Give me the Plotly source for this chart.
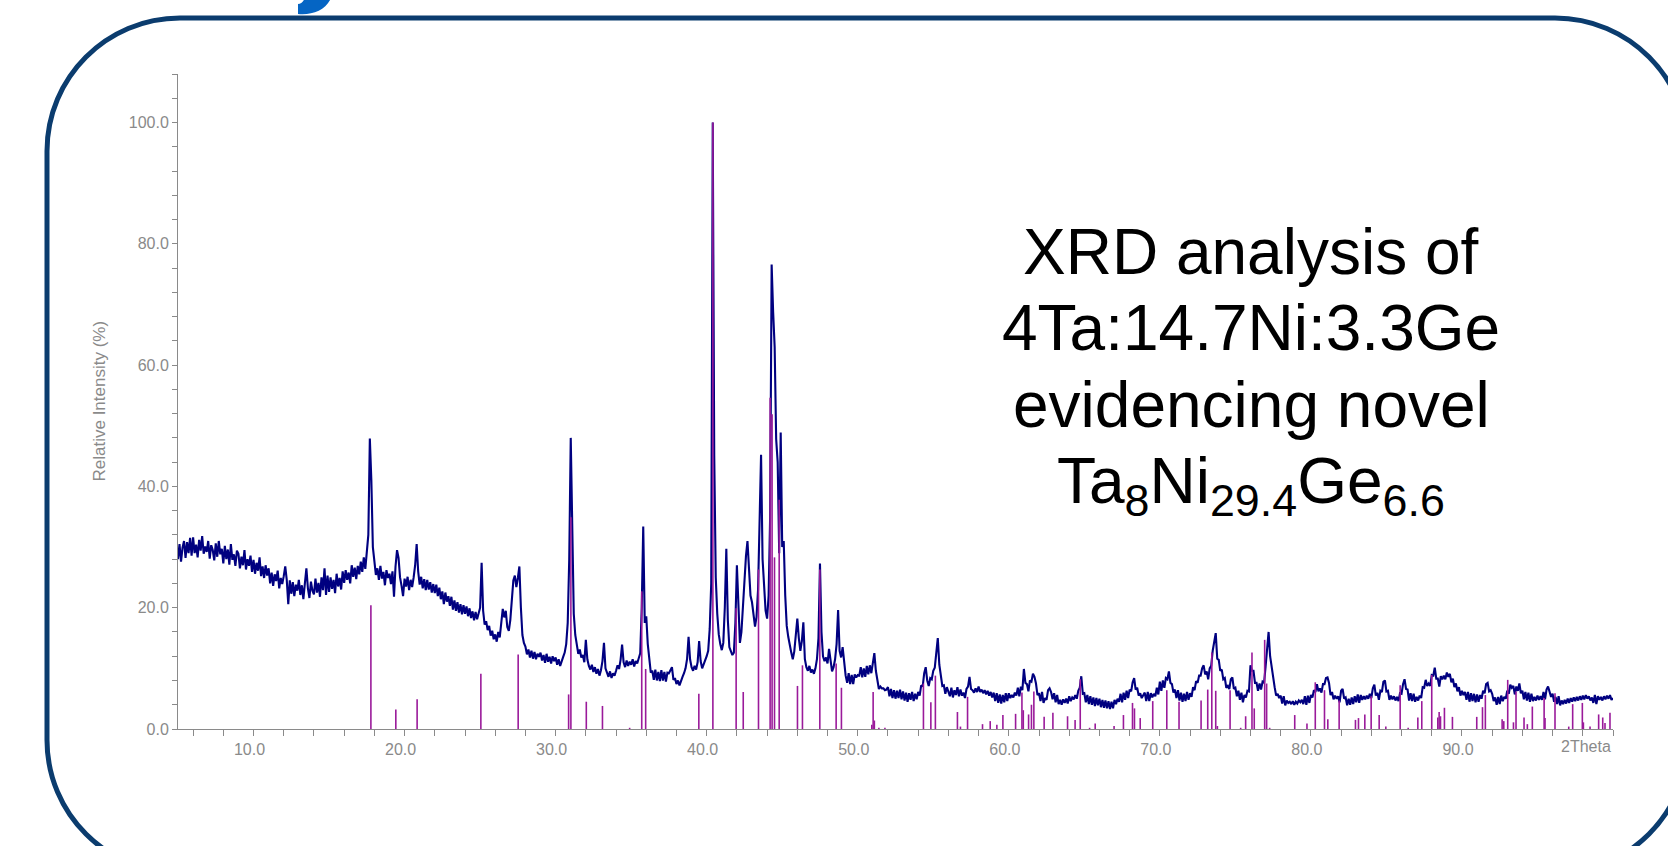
import numpy as np
import plotly.graph_objects as go

# ------------------------------------------------------------------
# DATA
# ------------------------------------------------------------------
# Measured scan: 2Theta from 5.0 to 100.0 in 0.1 deg steps, one row per degree
scan_start = 5.0
scan_step = 0.1
intensity_rows = [
    [28.0, 30.5, 27.6, 29.9, 31.0, 28.2, 30.8, 29.0, 31.5, 28.6],   # 5
    [31.6, 29.0, 30.4, 28.3, 31.2, 29.4, 31.8, 28.9, 30.1, 29.2],   # 6
    [31.0, 28.1, 30.3, 29.5, 27.8, 30.6, 28.4, 31.0, 28.8, 29.7],   # 7
    [27.3, 30.2, 28.0, 29.6, 27.1, 30.5, 27.9, 28.8, 26.9, 29.4],   # 8
    [28.9, 26.5, 28.4, 27.0, 29.5, 26.3, 28.0, 26.9, 28.6, 25.9],   # 9
    [27.9, 25.6, 27.4, 26.1, 28.3, 25.2, 26.8, 24.9, 27.0, 25.3],   # 10
    [26.5, 24.0, 25.8, 23.6, 25.5, 24.4, 26.1, 23.2, 24.9, 23.9],   # 11
    [25.2, 26.8, 24.6, 20.6, 24.5, 22.3, 24.2, 21.9, 23.8, 22.8],   # 12
    [24.6, 22.1, 23.7, 21.4, 24.0, 26.5, 23.2, 21.6, 24.3, 22.8],   # 13
    [22.2, 24.8, 22.5, 24.1, 21.8, 25.0, 22.9, 26.5, 22.1, 25.3],   # 14
    [22.6, 25.0, 23.1, 24.6, 22.4, 25.6, 23.5, 24.9, 23.0, 26.0],   # 15
    [24.1, 26.2, 24.6, 25.8, 24.0, 27.0, 25.1, 26.6, 24.7, 26.9],   # 16
    [25.5, 27.6, 25.9, 28.3, 26.4, 28.9, 32.0, 47.9, 41.0, 30.0],   # 17
    [27.2, 25.4, 26.5, 24.6, 26.9, 24.8, 25.9, 23.7, 26.2, 24.9],   # 18
    [25.6, 23.9, 26.0, 21.8, 26.8, 29.5, 28.2, 25.0, 23.6, 21.9],   # 19
    [24.8, 23.5, 25.1, 22.9, 24.6, 23.4, 25.0, 27.0, 30.5, 26.0],   # 20
    [23.8, 25.1, 23.2, 24.7, 22.9, 24.6, 23.0, 24.2, 22.5, 23.9],   # 21
    [22.4, 23.8, 21.9, 23.3, 21.4, 22.7, 20.6, 22.5, 21.0, 21.9],   # 22
    [20.3, 21.8, 19.7, 21.2, 19.5, 20.9, 19.2, 20.6, 18.9, 20.4],   # 23
    [19.0, 20.2, 18.6, 19.9, 18.3, 19.4, 17.9, 19.3, 18.1, 18.9],   # 24
    [20.0, 27.4, 19.5, 17.2, 17.8, 16.3, 17.0, 15.4, 16.2, 14.8],   # 25
    [15.6, 14.4, 16.0, 15.1, 17.2, 19.8, 18.4, 19.5, 16.8, 16.2],   # 26
    [18.0, 21.0, 24.5, 25.3, 23.4, 24.9, 26.8, 20.0, 15.5, 14.2],   # 27
    [13.6, 12.3, 13.1, 11.8, 12.9, 11.6, 12.7, 11.5, 12.4, 11.9],   # 28
    [12.6, 11.3, 12.2, 10.9, 12.4, 11.1, 11.9, 10.8, 12.0, 11.2],   # 29
    [11.8, 10.6, 11.5, 10.4, 11.3, 11.9, 12.6, 14.0, 17.5, 28.0],   # 30
    [48.0, 33.0, 19.0, 15.5, 13.6, 12.4, 13.1, 11.8, 12.2, 11.0],   # 31
    [14.7, 11.5, 10.4, 9.8, 10.6, 9.4, 10.2, 9.1, 9.9, 8.8],        # 32
    [9.7, 11.2, 14.2, 10.0, 9.3, 8.6, 9.5, 8.4, 9.2, 8.8],          # 33
    [9.6, 10.5, 9.9, 11.4, 13.9, 11.0, 10.2, 11.3, 10.4, 11.1],     # 34
    [10.6, 11.5, 10.3, 11.2, 10.8, 11.9, 12.5, 20.0, 33.4, 17.5],   # 35
    [18.6, 14.0, 11.0, 9.3, 9.6, 8.1, 9.8, 8.0, 9.4, 7.9],          # 36
    [9.7, 8.0, 9.4, 7.8, 9.3, 9.2, 9.7, 10.2, 8.1, 8.4],            # 37
    [7.4, 8.0, 7.2, 8.1, 8.6, 9.2, 10.0, 11.5, 15.2, 11.5],         # 38
    [10.2, 9.6, 10.4, 9.8, 11.0, 14.5, 11.2, 10.0, 10.6, 11.4],     # 39
    [12.0, 12.9, 16.5, 24.0, 100.0, 45.0, 25.0, 19.0, 15.6, 14.0],  # 40
    [13.0, 14.2, 20.0, 29.7, 18.0, 13.5, 12.9, 12.2, 12.6, 17.5],   # 41
    [27.0, 18.5, 14.2, 16.0, 20.3, 25.0, 28.5, 31.0, 26.5, 22.0],   # 42
    [20.9, 18.5, 16.9, 18.5, 22.9, 34.0, 45.2, 28.0, 23.0, 19.5],   # 43
    [18.2, 22.0, 35.0, 76.6, 68.7, 63.0, 47.8, 44.0, 29.0, 48.9],   # 44
    [30.0, 31.0, 22.0, 17.0, 15.2, 13.5, 12.6, 11.5, 12.8, 15.5],   # 45
    [18.2, 15.0, 12.9, 14.5, 17.6, 11.5, 10.2, 9.6, 10.4, 9.3],     # 46
    [9.8, 9.1, 10.0, 11.5, 15.0, 27.3, 16.0, 12.0, 11.2, 11.8],     # 47
    [10.8, 13.2, 10.9, 9.5, 10.2, 11.5, 14.0, 19.6, 12.9, 11.8],    # 48
    [13.5, 10.5, 8.8, 7.6, 9.2, 7.4, 8.9, 7.4, 9.0, 8.5],           # 49
    [8.9, 8.8, 10.2, 8.5, 10.0, 8.6, 10.4, 9.0, 10.5, 9.2],         # 50
    [10.9, 12.5, 9.6, 7.9, 6.6, 7.0, 6.7, 6.7, 6.4, 6.5],           # 51
    [6.9, 5.4, 6.6, 5.1, 6.4, 5.0, 6.3, 5.1, 6.5, 4.9],             # 52
    [6.2, 4.7, 6.0, 4.5, 5.9, 4.8, 6.1, 4.6, 5.8, 4.9],             # 53
    [6.1, 5.5, 7.2, 7.0, 9.2, 10.2, 8.0, 7.1, 8.4, 8.2],            # 54
    [9.6, 10.1, 12.4, 15.0, 10.6, 8.9, 7.1, 7.2, 5.8, 6.9],         # 55
    [6.3, 5.4, 6.8, 5.2, 6.4, 5.6, 6.9, 5.4, 6.5, 5.5],             # 56
    [6.0, 5.1, 6.6, 7.0, 8.6, 6.6, 6.4, 6.0, 6.7, 6.1],             # 57
    [7.0, 6.1, 6.5, 5.9, 6.4, 5.7, 6.3, 5.5, 6.1, 5.2],             # 58
    [6.0, 4.6, 5.9, 4.3, 5.7, 4.2, 5.6, 4.4, 5.9, 4.6],             # 59
    [5.9, 5.1, 5.6, 5.2, 6.0, 5.5, 6.8, 5.4, 7.0, 6.4],             # 60
    [9.9, 7.6, 7.4, 6.2, 8.0, 7.8, 9.1, 8.6, 7.5, 5.6],             # 61
    [5.9, 4.6, 6.1, 4.3, 5.1, 4.8, 6.4, 6.7, 6.1, 4.9],             # 62
    [5.9, 4.4, 5.6, 4.1, 4.8, 4.0, 4.9, 4.3, 5.0, 4.2],             # 63
    [5.4, 4.6, 5.2, 4.9, 5.6, 5.0, 6.3, 6.8, 8.7, 5.8],             # 64
    [5.9, 4.4, 5.6, 4.1, 5.4, 4.0, 5.2, 3.8, 5.1, 3.9],             # 65
    [5.0, 3.6, 4.8, 3.5, 4.7, 3.4, 4.6, 3.3, 4.5, 3.4],             # 66
    [4.8, 4.1, 5.0, 4.5, 5.8, 4.4, 6.0, 4.8, 6.3, 5.1],             # 67
    [6.5, 6.2, 7.7, 8.4, 6.5, 6.8, 5.5, 5.9, 5.1, 5.7],             # 68
    [6.0, 4.6, 6.1, 4.6, 5.9, 5.2, 5.8, 5.4, 6.8, 5.7],             # 69
    [7.8, 6.3, 8.0, 6.8, 8.4, 8.2, 9.5, 7.6, 7.4, 6.0],             # 70
    [6.5, 5.1, 6.4, 4.7, 6.0, 4.5, 5.8, 4.6, 6.1, 4.8],             # 71
    [5.9, 5.3, 6.9, 6.4, 7.9, 7.6, 8.8, 8.8, 10.0, 10.5],           # 72
    [9.0, 9.5, 8.2, 10.0, 10.4, 12.9, 14.1, 15.8, 11.6, 11.4],      # 73
    [9.6, 9.8, 8.2, 8.4, 6.8, 7.1, 6.6, 8.2, 8.5, 6.6],             # 74
    [6.8, 5.4, 6.3, 4.8, 6.0, 4.4, 5.6, 5.2, 6.3, 6.2],             # 75
    [10.5, 9.6, 9.6, 7.6, 7.6, 6.3, 7.5, 6.5, 7.8, 7.6],            # 76
    [10.3, 13.5, 16.0, 12.0, 10.1, 8.4, 6.9, 5.5, 5.8, 5.1],        # 77
    [5.5, 4.2, 5.4, 3.9, 4.7, 4.3, 4.5, 4.1, 4.6, 4.0],             # 78
    [4.5, 4.2, 4.7, 4.4, 4.8, 4.1, 5.4, 4.0, 5.5, 4.3],             # 79
    [5.6, 5.2, 6.4, 6.1, 7.4, 6.2, 6.7, 6.0, 7.4, 7.4],             # 80
    [8.4, 8.5, 7.6, 5.6, 6.1, 4.9, 5.5, 5.0, 5.4, 4.4],             # 81
    [6.3, 6.6, 5.0, 5.2, 3.9, 5.0, 4.0, 5.2, 4.1, 5.4],             # 82
    [4.4, 5.7, 4.3, 5.6, 4.8, 5.4, 4.9, 5.5, 5.0, 5.8],             # 83
    [5.1, 6.7, 7.3, 5.5, 6.0, 4.8, 6.3, 6.1, 7.8, 8.0],             # 84
    [6.2, 6.3, 4.8, 5.5, 4.9, 5.4, 4.7, 5.3, 4.6, 5.9],             # 85
    [5.8, 7.4, 8.2, 6.6, 6.5, 4.7, 5.9, 4.6, 5.8, 4.5],             # 86
    [5.3, 4.7, 5.5, 5.1, 6.9, 6.8, 8.1, 7.1, 7.5, 7.1],             # 87
    [8.9, 8.8, 10.1, 8.3, 8.3, 7.0, 8.7, 8.2, 8.8, 8.2],            # 88
    [9.3, 8.6, 9.1, 7.7, 8.3, 6.9, 7.5, 6.2, 6.9, 5.5],             # 89
    [6.3, 5.6, 6.1, 4.8, 6.1, 4.5, 5.9, 4.6, 5.8, 4.4],             # 90
    [5.7, 4.5, 5.6, 5.0, 6.3, 5.9, 7.4, 7.6, 6.2, 6.4],             # 91
    [5.8, 4.6, 5.2, 4.0, 5.3, 4.1, 5.5, 4.6, 5.3, 5.0],             # 92
    [6.3, 5.8, 7.3, 6.8, 7.1, 5.7, 7.0, 6.3, 7.5, 5.9],             # 93
    [6.3, 4.9, 6.1, 4.7, 6.0, 4.5, 5.8, 4.6, 5.3, 4.7],             # 94
    [5.5, 4.8, 5.4, 4.8, 6.1, 4.9, 6.5, 7.0, 6.0, 5.3],             # 95
    [5.8, 4.5, 5.3, 4.1, 5.4, 3.9, 4.7, 4.1, 4.8, 4.2],             # 96
    [5.0, 4.3, 5.1, 4.5, 5.2, 4.6, 5.3, 4.7, 5.4, 4.8],             # 97
    [5.5, 4.9, 5.6, 5.0, 5.4, 4.7, 5.2, 4.3, 5.6, 4.1],             # 98
    [5.4, 4.8, 5.3, 4.7, 5.4, 4.9, 5.5, 5.0, 5.6, 4.8],             # 99
]
intensity_last = [5.1]  # 100.0

# Reference pattern (stick) positions and relative intensities
ref_2theta = [
    17.77, 19.42, 20.83, 25.05, 27.52, 30.86, 31.01, 32.03, 33.10, 34.90,
    35.70, 35.96, 39.48, 40.41, 41.95, 42.42, 43.43, 44.20, 44.33, 44.49,
    44.80, 46.01, 46.34, 47.49, 48.57, 48.92, 50.93, 51.02, 51.10, 51.40,
    51.80, 54.35, 54.84, 55.14, 56.60, 56.80, 57.27, 58.26, 58.77, 59.21,
    59.61, 60.45, 60.87, 60.96, 61.31, 61.50, 61.66, 62.34, 62.92, 63.89,
    64.39, 64.73, 65.35, 65.72, 66.97, 67.59, 68.19, 68.32, 68.70, 69.53,
    70.46, 71.27, 72.73, 73.17, 73.44, 73.70, 73.81, 74.65, 75.35, 75.68,
    76.10, 76.25, 76.94, 77.07, 77.27, 78.93, 79.74, 80.29, 80.90, 81.12,
    81.87, 82.95, 83.15, 83.57, 83.99, 84.52, 84.96, 85.91, 86.44, 87.08,
    87.34, 88.00, 88.40, 88.49, 88.58, 88.84, 89.37, 90.98, 91.36, 91.55,
    92.66, 92.77, 93.03, 93.41, 93.58, 94.11, 94.33, 94.66, 95.44, 95.50,
    96.16, 97.07, 97.33, 97.97, 98.04, 98.48, 99.05, 99.32, 99.47, 99.80,
]
ref_intensity = [
    20.4, 3.2, 4.9, 9.1, 12.3, 5.7, 34.9, 4.5, 3.8, 0.2,
    22.7, 9.9, 5.8, 100.0, 19.9, 6.1, 26.3, 54.6, 51.9, 28.3,
    37.8, 7.1, 10.5, 26.3, 10.8, 6.8, 0.7, 6.1, 1.4, 0.2,
    0.2, 7.5, 4.4, 8.8, 2.8, 0.4, 5.3, 0.8, 1.3, 0.7,
    2.3, 2.5, 6.0, 3.1, 2.4, 4.0, 6.2, 2.0, 2.7, 2.1,
    1.5, 8.2, 0.2, 0.9, 0.5, 2.3, 4.3, 3.4, 1.8, 4.6,
    6.4, 4.5, 4.7, 6.5, 12.6, 6.3, 0.5, 6.4, 0.2, 2.1,
    12.6, 3.4, 14.7, 7.5, 0.2, 2.3, 0.9, 7.7, 6.4, 1.6,
    4.7, 1.5, 1.8, 2.4, 5.4, 2.3, 0.4, 7.2, 0.2, 1.9,
    4.6, 8.9, 1.9, 2.8, 2.1, 3.5, 2.0, 2.0, 3.6, 5.6,
    1.6, 1.3, 8.1, 1.1, 6.2, 1.9, 0.8, 3.7, 5.1, 1.8,
    5.9, 0.4, 4.1, 4.3, 1.1, 0.4, 2.4, 1.9, 1.0, 2.7,
]

x_tick_values = [10, 20, 30, 40, 50, 60, 70, 80, 90]
x_tick_labels = ["10.0", "20.0", "30.0", "40.0", "50.0", "60.0", "70.0", "80.0", "90.0"]
y_tick_values = [0, 20, 40, 60, 80, 100]
y_tick_labels = ["0.0", "20.0", "40.0", "60.0", "80.0", "100.0"]

title_lines = [
    "XRD analysis of",
    "4Ta:14.7Ni:3.3Ge",
    "evidencing novel",
    "Ta<sub>8</sub>Ni<sub>29.4</sub>Ge<sub>6.6</sub>",
]
y_axis_title = "Relative Intensity (%)"
x_axis_end_label = "2Theta"

# ------------------------------------------------------------------
# Build series
# ------------------------------------------------------------------
intensity = [v for row in intensity_rows for v in row] + intensity_last
two_theta = np.round(scan_start + scan_step * np.arange(len(intensity)), 2)

stick_x, stick_y = [], []
for t, v in zip(ref_2theta, ref_intensity):
    stick_x += [t, t, None]
    stick_y += [0, v, None]

# ------------------------------------------------------------------
# Layout geometry (pixels)
# ------------------------------------------------------------------
W_PAGE, H_PAGE = 1668, 846
L, R, T, B = 178, 1613, 74, 729
PW, PH = R - L, B - T


def px(x):
    return (x - L) / PW


def py(y):
    return (B - y) / PH


def pt(x, y):
    return f"{px(x):.5f},{py(y):.5f}"


GRAY = "#8a8a8a"
FONT = "Liberation Sans, Arial, sans-serif"

fig = go.Figure()
fig.add_trace(go.Scatter(
    x=two_theta, y=intensity, mode="lines",
    line=dict(color="#000080", width=2.1), hoverinfo="skip", showlegend=False,
))
fig.add_trace(go.Scatter(
    x=stick_x, y=stick_y, mode="lines",
    line=dict(color="#9a1a9a", width=1.6), hoverinfo="skip", showlegend=False,
))

# rounded frame
bl, bt, br, bb, rad = 47, 18, 1688, 873, 133
k = 0.5523 * rad
frame = (
    f"M {pt(bl, bt + rad)} "
    f"C {pt(bl, bt + rad - k)} {pt(bl + rad - k, bt)} {pt(bl + rad, bt)} "
    f"L {pt(br - rad, bt)} "
    f"C {pt(br - rad + k, bt)} {pt(br, bt + rad - k)} {pt(br, bt + rad)} "
    f"L {pt(br, bb - rad)} "
    f"C {pt(br, bb - rad + k)} {pt(br - rad + k, bb)} {pt(br - rad, bb)} "
    f"L {pt(bl + rad, bb)} "
    f"C {pt(bl + rad - k, bb)} {pt(bl, bb - rad + k)} {pt(bl, bb - rad)} Z"
)
glyph = (
    f"M {pt(298, 4)} L {pt(298, 14)} "
    f"C {pt(312, 15.5)} {pt(326, 10)} {pt(331, -2)} "
    f"L {pt(305, -2)} C {pt(303, 2)} {pt(301, 4)} {pt(298, 4)} Z"
)
shapes = [
    dict(type="path", xref="paper", yref="paper", path=frame,
         line=dict(color="#0b3c6e", width=5), fillcolor="rgba(0,0,0,0)"),
    dict(type="path", xref="paper", yref="paper", path=glyph,
         line=dict(color="#0565c4", width=0), fillcolor="#0565c4"),
]

annotations = []
cap_centers = [250, 326.3, 402.6, 478.9]
for line, yc in zip(title_lines, cap_centers):
    annotations.append(dict(
        text=line, xref="paper", yref="paper", x=px(1251), y=py(yc - 36),
        xanchor="center", yanchor="top", showarrow=False,
        font=dict(family=FONT, size=64, color="#000000"),
    ))
annotations.append(dict(
    text=y_axis_title, xref="paper", yref="paper", x=px(99), y=0.5,
    xanchor="center", yanchor="middle", textangle=-90, showarrow=False,
    font=dict(family=FONT, size=17, color=GRAY),
))
annotations.append(dict(
    text=x_axis_end_label, xref="x", yref="paper", x=100, y=0,
    xanchor="right", yanchor="top", yshift=-7, showarrow=False,
    font=dict(family=FONT, size=16, color=GRAY),
))

fig.update_layout(
    width=W_PAGE, height=H_PAGE,
    margin=dict(l=L, r=W_PAGE - R, t=T, b=H_PAGE - B, pad=0),
    paper_bgcolor="white", plot_bgcolor="white",
    showlegend=False,
    shapes=shapes, annotations=annotations,
    font=dict(family=FONT, color=GRAY, size=16),
    xaxis=dict(
        range=[5, 100], showgrid=False, zeroline=False,
        showline=True, linecolor=GRAY, linewidth=1,
        tickmode="array", tickvals=x_tick_values, ticktext=x_tick_labels,
        ticks="outside", ticklen=6, tickcolor=GRAY, tickwidth=1,
        ticklabelshift=-4,
        tickfont=dict(family=FONT, size=16, color=GRAY),
        minor=dict(dtick=2, tick0=0, ticks="outside", ticklen=6, tickcolor=GRAY, showgrid=False),
    ),
    yaxis=dict(
        range=[0, 108], showgrid=False, zeroline=False,
        showline=True, linecolor=GRAY, linewidth=1,
        tickmode="array", tickvals=y_tick_values, ticktext=y_tick_labels,
        ticks="outside", ticklen=5, tickcolor=GRAY, tickwidth=1,
        tickfont=dict(family=FONT, size=16, color=GRAY),
        minor=dict(dtick=4, tick0=0, ticks="outside", ticklen=5, tickcolor=GRAY, showgrid=False),
    ),
)

# remove the browser's default 8px body margin so the figure sits at (0, 0)
fig.write_html(
    "out.html",
    config={"displayModeBar": False},
    post_script="document.body.style.margin='0px';",
)
